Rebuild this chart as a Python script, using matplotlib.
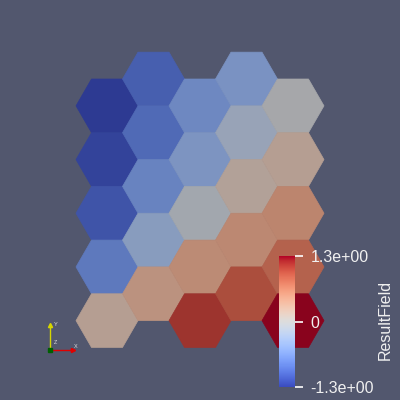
import numpy as np
import matplotlib.pyplot as plt
from matplotlib.patches import RegularPolygon
from matplotlib import colors as mcolors

plt.rcParams['font.family'] = ['Liberation Sans', 'DejaVu Sans']

# values per column (left to right), rows top to bottom
col0 = [-1.3, -1.22, -1.09, -0.78, 0.2]
col1 = [-1.0, -0.91, -0.68, -0.36, 0.36]
col2 = [-0.62, -0.47, -0.08, 0.44, 1.1]
col3 = [-0.5, -0.2, 0.15, 0.47, 0.94]
col4 = [-0.03, 0.2, 0.5, 0.8, 1.3]
columns = [col0, col1, col2, col3, col4]

vmin, vmax = -1.3, 1.3
tick_vals = [-1.3, 0, 1.3]
tick_labels = ['-1.3e+00', '0', '1.3e+00']
bar_title = 'ResultField'

bg = '#52576E'
shade = 0.76   # ParaView lighting makes the surface darker than the bar

fig = plt.figure(figsize=(4, 4), dpi=100, facecolor=bg)
ax = fig.add_axes([0, 0, 1, 1])
ax.set_facecolor(bg)

R = 31.0  # px per unit
ax.set_xlim(-107 / R, 293 / R)
ax.set_ylim(-321 / R, 79 / R)
ax.axis('off')

cmap = plt.get_cmap('coolwarm')
norm = mcolors.Normalize(vmin, vmax)
h = np.sqrt(3)
for c, vals in enumerate(columns):
    for r, v in enumerate(vals):
        x = 1.5 * c
        y = -h * r - (h / 2 if c % 2 == 0 else 0)
        rgb = np.array(cmap(norm(v))[:3]) * shade
        ax.add_patch(RegularPolygon((x, y), 6, radius=1.0, orientation=np.pi / 6,
                                    facecolor=rgb, edgecolor=rgb, lw=0.5))

# axes triad (bottom left)
def px(xp, yp):
    return (xp - 107) / R, (79 - yp) / R

o = px(50, 350)
yy = px(50, 325)
xx = px(73, 350)
ax.plot([o[0], yy[0]], [o[1], yy[1]], color='#d6d600', lw=1)
ax.plot([o[0], xx[0]], [o[1], xx[1]], color='#e00000', lw=1)
ax.plot(*yy, marker='^', ms=3, color='#d6d600')
ax.plot(*xx, marker='>', ms=3, color='#e00000')
ax.plot(*o, marker='s', ms=3, color='#006000')
ax.text(*px(54, 325), 'Y', color='#dddddd', fontsize=4, va='center')
ax.text(*px(74, 346), 'X', color='#dddddd', fontsize=4, va='center')
ax.text(*px(54, 343), 'Z', color='#dddddd', fontsize=4, va='center')

# colour bar
cax = fig.add_axes([279 / 400, 13 / 400, 16 / 400, 131 / 400])
sm = plt.cm.ScalarMappable(norm=norm, cmap=cmap)
cb = fig.colorbar(sm, cax=cax, ticks=tick_vals)
cb.outline.set_visible(False)
cb.ax.set_yticklabels(tick_labels)
cb.ax.tick_params(colors='white', length=6, width=1.2, pad=5, labelsize=11.5,
                  labelcolor='#f0f0f0')
fig.text(385 / 400, 80 / 400, bar_title, rotation=90, color='#f0f0f0',
         fontsize=11.5, ha='center', va='center')

fig.savefig('out.png', dpi=100, facecolor=bg)
